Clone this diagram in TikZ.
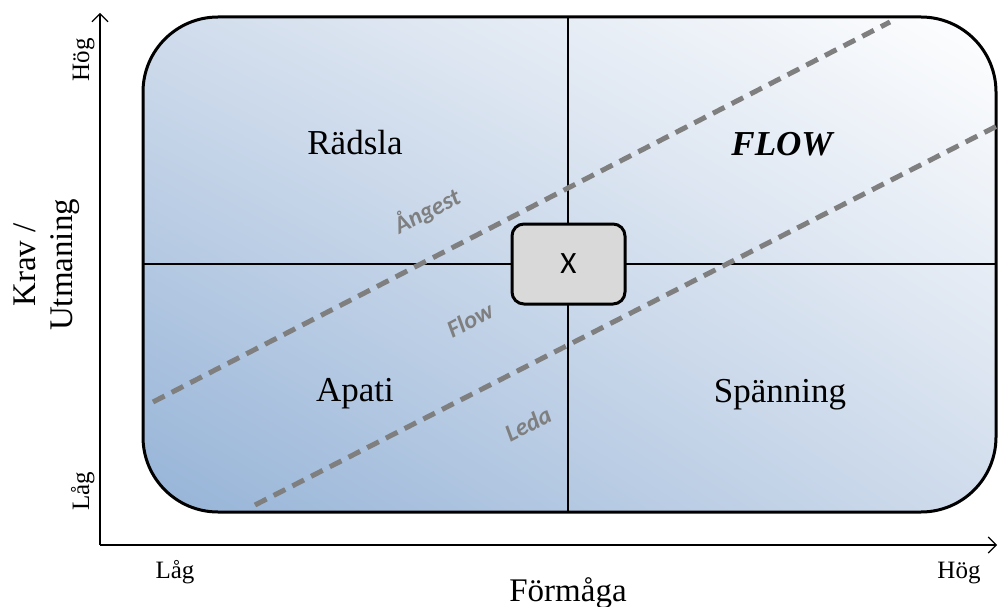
\documentclass[tikz,border=0pt]{standalone}
\usepackage{fontspec}
\setmainfont{Liberation Serif}
\newfontfamily\carl{Carlito}
\usetikzlibrary{arrows.meta,shadings}
\definecolor{blueLL}{HTML}{95B3D7}
\definecolor{blueMid}{HTML}{D0DCEC}
\definecolor{dashgray}{HTML}{7F7F7F}
\definecolor{boxgray}{HTML}{D9D9D9}
\tikzset{
  quad/.style={font=\fontsize{35}{40}\selectfont, inner sep=0pt, anchor=base},
  small/.style={font=\fontsize{25}{30}\selectfont, inner sep=0pt},
  zone/.style={dashgray, line width=5pt, dash pattern=on 13pt off 8pt},
  zonelabel/.style={dashgray, font=\carl\bfseries\itshape\fontsize{24.5}{28}\selectfont, rotate=27.2, inner sep=0pt},
  axisline/.style={line width=1.1pt, -{Straight Barb[length=8pt,width=16pt]}},
  gridline/.style={line width=1.1pt},
}
\begin{document}
\begin{tikzpicture}[x=1pt,y=-1pt]
\useasboundingbox (0,0) rectangle (998,607);
% frame
\node (frame) [draw, line width=3pt, rounded corners=75pt, minimum width=853pt, minimum height=495pt,
  lower left=blueLL, upper right=white, upper left=blueMid, lower right=blueMid, inner sep=0pt] at (569.5,264.5) {};
% grid
\coordinate (gt) at (568,17);
\coordinate (gb) at (568,512);
\coordinate (gl) at (143,264);
\coordinate (gr) at (996,264);
\draw[gridline] (gt) -- (gb);
\draw[gridline] (gl) -- (gr);
% dashed zones
\coordinate (a1) at (153,402);
\coordinate (a2) at (890,22);
\coordinate (b1) at (255,505);
\coordinate (b2) at (997,126);
\draw[zone] (a1) -- (a2);
\draw[zone] (b1) -- (b2);
% center box
\node (xbox) [draw, line width=3pt, fill=boxgray, rounded corners=12pt, minimum width=113pt, minimum height=80pt, inner sep=0pt,
  font=\carl\fontsize{31}{36}\selectfont] at (568.5,264) {\raisebox{-1.5pt}{X}};
% quadrant labels
\node (radsla) [quad] at (355,154) {Rädsla};
\node (flow) [quad, font=\fontsize{35}{40}\selectfont\bfseries\itshape] at (782,155) {FLOW};
\node (apati) [quad] at (355,401) {Apati};
\node (spanning) [quad] at (780,402) {Spänning};
% zone labels
\node (angest) [zonelabel] at (427,211) {Ångest};
\node (flowl) [zonelabel] at (470,320) {Flow};
\node (leda) [zonelabel] at (528,424) {Leda};
% axes
\coordinate (o) at (100,545);
\coordinate (yt) at (100,13);
\coordinate (xr) at (997,545);
\draw[axisline] (o) -- (yt);
\draw[axisline] (o) -- (xr);
% axis labels
\node (yhog) [small, rotate=90, anchor=base] at (89,60) {Hög};
\node (ylag) [small, rotate=90, anchor=base] at (89,491) {Låg};
\node (xlag) [small, anchor=base] at (175,578) {Låg};
\node (xhog) [small, anchor=base] at (959,578) {Hög};
\node (xlab) [quad, font=\fontsize{33}{38}\selectfont] at (568,601) {Förmåga};
\node (ylab) [rotate=90, align=center, font=\fontsize{33}{37}\selectfont, inner sep=0pt] at (47,265) {Krav /\\Utmaning};
\end{tikzpicture}
\end{document}
